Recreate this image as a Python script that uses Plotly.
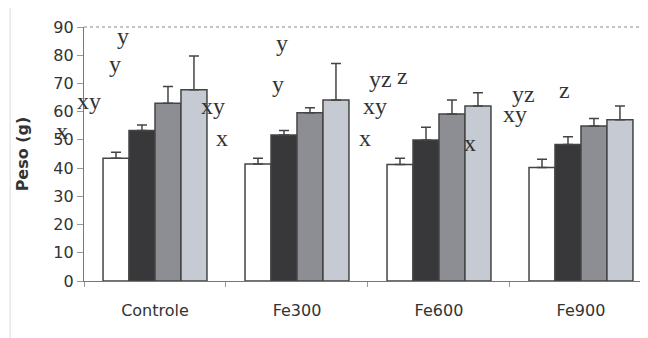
import plotly.graph_objects as go

categories = ["Controle", "Fe300", "Fe600", "Fe900"]
series_names = ["Série 1", "Série 2", "Série 3", "Série 4"]
values = [
    [43.5, 41.5, 41.3, 40.2],
    [53.3, 51.7, 50.0, 48.4],
    [63.0, 59.6, 59.2, 54.9],
    [67.8, 64.1, 62.0, 57.1],
]
errors = [
    [2.1, 2.0, 2.2, 2.9],
    [2.0, 1.6, 4.5, 2.7],
    [5.9, 1.8, 4.9, 2.7],
    [11.9, 13.0, 4.7, 4.9],
]
y_ticks = [0, 10, 20, 30, 40, 50, 60, 70, 80, 90]

letter_text = ["y", "y", "xy", "x", "xy", "x", "y", "y", "yz", "z", "xy", "x", "x", "yz", "xy", "z"]
letter_x = [-0.225, -0.282, -0.465, -0.655, 0.408, 0.472, 0.894, 0.866,
            1.585, 1.746, 1.549, 1.479, 2.218, 2.592, 2.535, 2.887]
letter_y = [86.8, 76.9, 63.8, 53.2, 62.0, 50.7, 84.3, 69.8,
            71.6, 72.6, 62.0, 50.7, 48.9, 66.3, 59.2, 67.7]

colors = ["#ffffff", "#38383a", "#8c8e93", "#c6cad2"]

X_MIN, X_MAX = -0.5, 3.472
PX_PER_CAT = 142.0

fig = go.Figure()
for name, vals, errs, col in zip(series_names, values, errors, colors):
    fig.add_trace(go.Bar(
        x=categories, y=vals, name=name,
        marker=dict(color=col, line=dict(color="#444444", width=1.5)),
        error_y=dict(type="data", symmetric=False, array=errs,
                     arrayminus=[0] * len(errs),
                     color="#444444", thickness=1.5, width=5),
    ))

for t, xv, yv in zip(letter_text, letter_x, letter_y):
    # letters left of the axis range are anchored at the edge and shifted in pixels
    anchor_x = max(xv, X_MIN + 0.01)
    shift = (xv - anchor_x) * PX_PER_CAT
    fig.add_annotation(x=anchor_x, y=yv, xref="x", yref="y", text=t, showarrow=False,
                       xshift=shift,
                       font=dict(family="Liberation Serif", size=24, color="#333333"),
                       xanchor="center", yanchor="middle")

# outer frame (left and top edges visible)
fig.add_shape(type="line", xref="paper", yref="paper", x0=-0.131, x1=-0.131,
              y0=-0.3, y1=1.0866, line=dict(color="#d6dae2", width=1), layer="below")
fig.add_shape(type="line", xref="paper", yref="paper", x0=-0.131, x1=1.05,
              y0=1.0866, y1=1.0866, line=dict(color="#d6dae2", width=1), layer="below")
# top border of plot area
fig.add_shape(type="line", xref="paper", yref="paper", x0=0, x1=1.05, y0=1, y1=1,
              line=dict(color="#8a8a8a", width=1.2, dash="dot"))

fig.update_layout(
    width=640, height=330,
    margin=dict(l=76, r=0, t=19, b=57),
    barmode="group", bargap=0.268, bargroupgap=0,
    showlegend=False,
    plot_bgcolor="white", paper_bgcolor="white",
    font=dict(family="DejaVu Sans", size=16, color="#333333"),
    xaxis=dict(range=[X_MIN, X_MAX], showline=True, linecolor="#777777", linewidth=1.2,
               ticks="outside", tickson="boundaries", ticklen=5, tickcolor="#999999",
               showgrid=False, ticklabelstandoff=15,
               tickfont=dict(size=16, color="#333333")),
    yaxis=dict(range=[0, 90], tickvals=y_ticks, showline=True, linecolor="#777777",
               linewidth=1.2, ticks="outside", ticklen=6, tickcolor="#999999",
               showgrid=False, zeroline=False, tickfont=dict(size=16, color="#333333"),
               title=dict(text="<b>Peso (g)</b>", font=dict(size=16, color="#333333"),
                          standoff=20)),
)

fig.write_html("out.html")
